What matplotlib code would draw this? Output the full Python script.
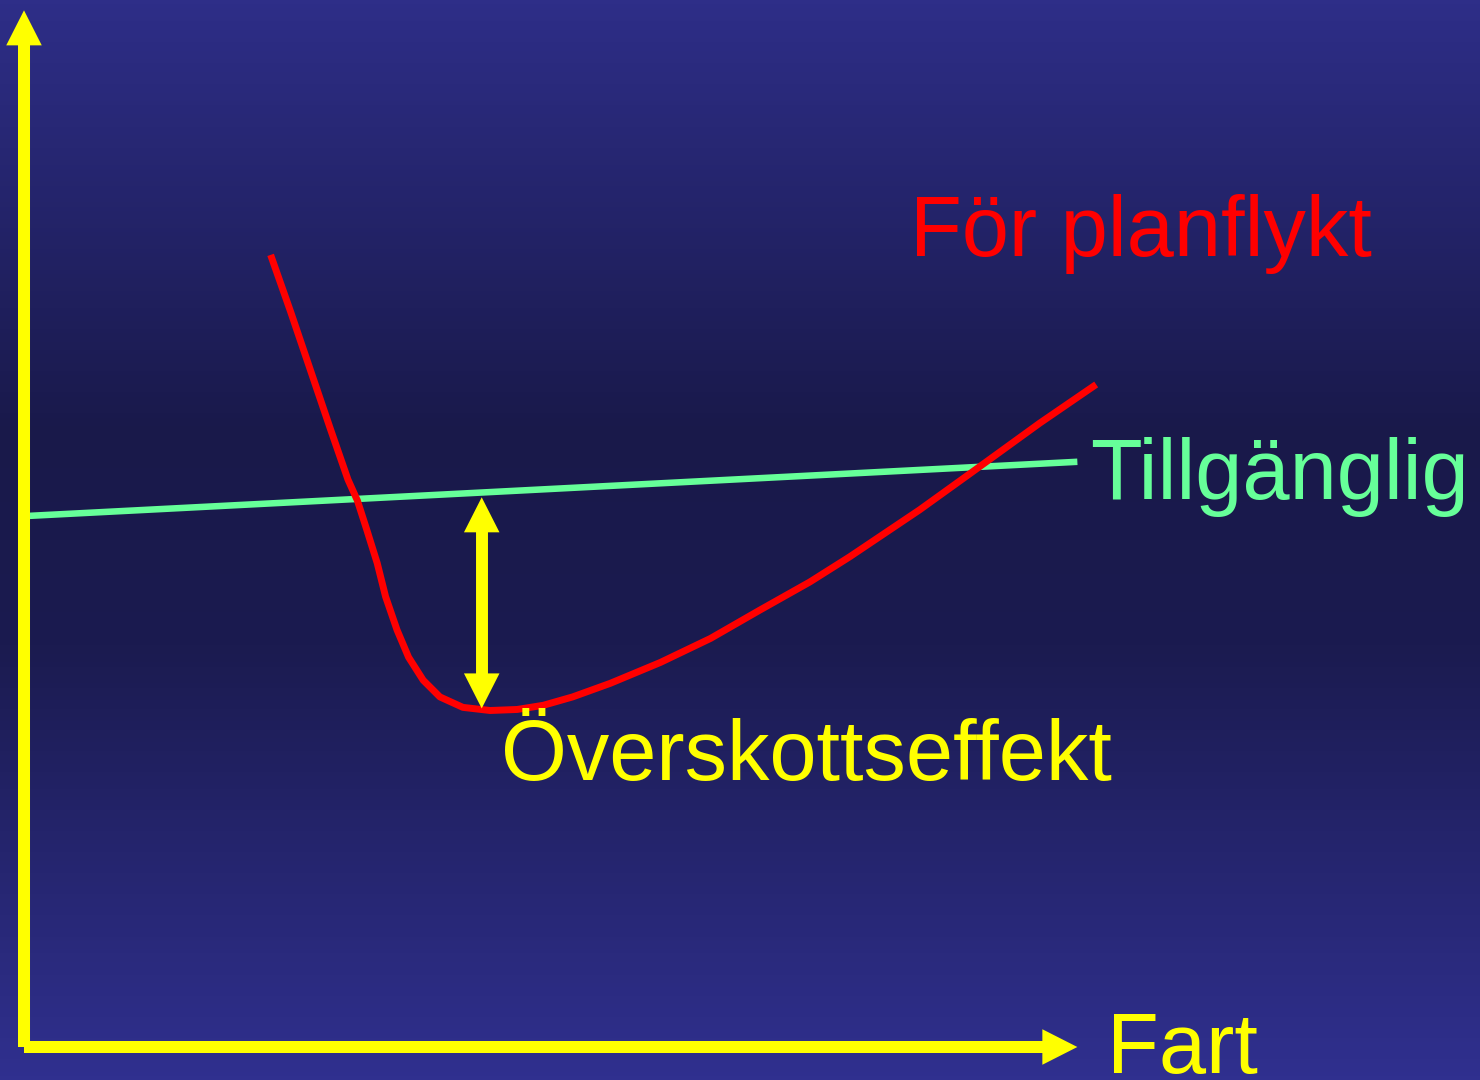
import numpy as np
import matplotlib.pyplot as plt
from matplotlib.colors import LinearSegmentedColormap

# Power curve (Fart on x, Effekt on y, arbitrary units)
fart_kurva = [23.6, 25.5, 27.4, 29.3, 31.0, 31.9, 32.8, 33.8, 34.6, 35.7,
              36.8, 38.2, 39.8, 42.0, 44.6, 47.2, 49.7, 52.5, 56.1, 60.9,
              65.7, 70.4, 75.2, 79.0, 85.7, 91.4, 97.2, 102.6]
effekt_planflykt = [75.8, 70.4, 64.8, 59.2, 54.3, 52.3, 49.5, 46.3, 43.1, 39.9,
                    37.3, 35.1, 33.5, 32.5, 32.2, 32.3, 32.7, 33.5, 34.8, 36.8,
                    39.1, 41.8, 44.5, 46.9, 51.4, 55.5, 59.7, 63.4]

# Available power (straight line)
fart_tillg = [0.0, 100.8]
effekt_tillg = [50.8, 56.0]

# Excess power arrow (at one speed, between the two curves)
fart_overskott = 43.8
effekt_overskott = [32.4, 52.6]

# Axis extents
fart_max = 100.8
effekt_max = 99.2

fig = plt.figure(figsize=(14.8, 10.8), dpi=100)
ax = fig.add_axes([0, 0, 1, 1])
ax.set_xlim(-2.297, 139.33)
ax.set_ylim(-3.158, 100.19)
ax.axis('off')

# --- background gradient (light edges, dark middle) ---
bg = LinearSegmentedColormap.from_list(
    'bg', [(0.0, '#2e2e88'), (0.4, '#19194a'), (0.6, '#1b1b50'), (1.0, '#30308f')])
grad = np.linspace(0, 1, 256).reshape(-1, 1)
ax.imshow(grad, cmap=bg, aspect='auto', extent=(-2.297, 139.33, -3.158, 100.19),
          origin='upper', zorder=0)

# --- curves ---
ax.plot(fart_tillg, effekt_tillg, color='#66ff99', lw=4.7, solid_capstyle='butt', zorder=2)
ax.plot(fart_kurva, effekt_planflykt, color='#ff0000', lw=5.0,
        solid_capstyle='butt', solid_joinstyle='round', zorder=3)

# --- yellow arrows ---
yellow = '#ffff00'
shaft_w = 1.15
head_w = 3.4
head_l = 3.35
ax.arrow(0, 0, 0, effekt_max, width=shaft_w, head_width=head_w, head_length=head_l,
         length_includes_head=True, color=yellow, lw=0, zorder=5)
ax.arrow(0, 0, fart_max, 0, width=shaft_w, head_width=head_w, head_length=head_l,
         length_includes_head=True, color=yellow, lw=0, zorder=5)

# double-headed arrow: shaft plus two heads
lo, hi = effekt_overskott
ax.plot([fart_overskott, fart_overskott], [lo + head_l - 0.3, hi - head_l + 0.3],
        color=yellow, lw=8.6, solid_capstyle='butt', zorder=4)
ax.arrow(fart_overskott, hi - head_l, 0, head_l, width=shaft_w, head_width=head_w,
         head_length=head_l, length_includes_head=True, color=yellow, lw=0, zorder=4)
ax.arrow(fart_overskott, lo + head_l, 0, -head_l, width=shaft_w, head_width=head_w,
         head_length=head_l, length_includes_head=True, color=yellow, lw=0, zorder=4)

# --- labels ---
font = 'Liberation Sans'
fs = 61
ax.text(84.8, 75.7, 'För planflykt', color='#ff0000', fontsize=fs, family=font,
        ha='left', va='baseline', zorder=6)
ax.text(102.0, 52.4, 'Tillgänglig', color='#66ff99', fontsize=fs, family=font,
        ha='left', va='baseline', zorder=6)
ax.text(45.6, 25.55, 'Överskottseffekt', color=yellow, fontsize=fs, family=font,
        ha='left', va='baseline', zorder=6)
ax.text(103.6, -2.49, 'Fart', color=yellow, fontsize=fs, family=font,
        ha='left', va='baseline', zorder=6)

fig.savefig('out.png', dpi=100)
